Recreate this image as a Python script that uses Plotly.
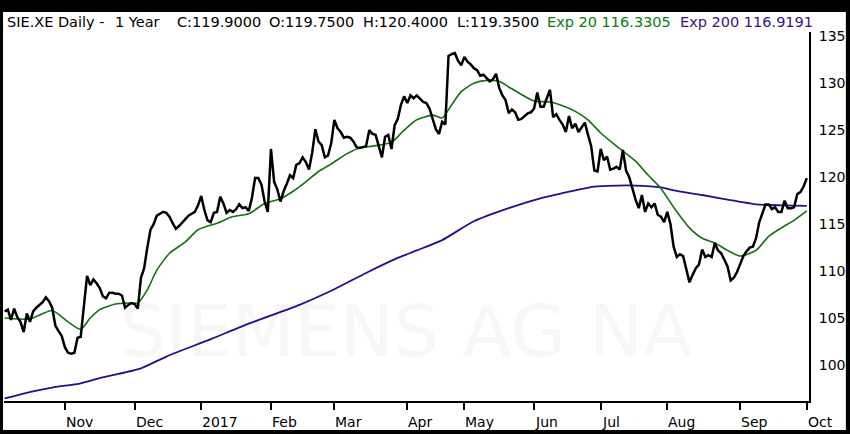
import plotly.graph_objects as go

# daily closes, one per trading day (Oct 2016 - Oct 2017)
price = [
    105.7, 105.9, 104.8, 106.0, 105.1, 104.6, 103.5, 105.5, 104.6, 105.7,
    106.1, 106.4, 106.7, 107.2, 106.8, 106.1, 104.2, 103.6, 103.1, 101.9,
    101.3, 101.2, 101.3, 102.9, 103.0, 106.3, 109.5, 108.5, 109.1, 108.7,
    108.2, 107.3, 107.1, 107.7, 107.7, 107.6, 107.6, 107.4, 106.1, 106.4,
    106.6, 106.5, 106.0, 109.3, 110.3, 112.5, 114.4, 115.0, 115.9, 116.1,
    116.3, 116.2, 115.8, 115.1, 114.5, 114.8, 115.2, 115.5, 115.9, 116.1,
    116.3, 117.0, 118.0, 116.5, 115.4, 115.2, 116.2, 116.3, 117.9, 117.2,
    116.2, 116.5, 116.3, 116.6, 117.1, 116.7, 116.8, 116.4, 117.8, 119.9,
    119.9, 119.2, 117.4, 116.3, 123.0, 119.5, 118.7, 117.4, 118.5, 119.3,
    120.2, 119.9, 121.3, 121.5, 122.1, 121.6, 120.8, 122.6, 125.1, 123.8,
    123.4, 122.1, 122.3, 123.6, 126.1, 125.2, 124.8, 124.2, 124.3, 124.2,
    123.8, 123.2, 123.1, 123.2, 123.3, 125.0, 124.6, 124.5, 123.4, 122.1,
    124.3, 124.5, 123.0, 125.5, 126.2, 127.7, 128.6, 127.9, 128.7, 128.4,
    128.7, 128.3, 128.0, 127.9, 127.3, 126.2, 125.1, 124.6, 125.9, 125.6,
    132.9, 133.1, 133.2, 132.4, 131.9, 132.8, 132.3, 132.0, 131.6, 131.4,
    130.8, 130.9, 130.5, 130.2, 130.4, 131.0, 129.5, 128.7, 128.2, 126.8,
    127.2, 126.9, 126.1, 126.2, 126.5, 126.8, 126.9, 127.3, 129.0, 127.5,
    127.5, 128.5, 129.3, 126.4, 126.7, 126.1, 125.6, 124.8, 126.5, 125.2,
    125.7, 124.8, 125.3, 125.8, 124.5, 123.3, 120.7, 120.6, 123.0, 121.8,
    122.2, 120.8, 120.9, 121.1, 120.8, 122.9, 120.7, 120.0, 118.8, 117.6,
    116.7, 118.1, 116.3, 117.2, 116.8, 117.2, 116.0, 115.8, 115.2, 116.3,
    115.0, 112.6, 111.5, 111.8, 111.6, 110.1, 108.8, 109.6, 110.3, 110.7,
    112.3, 111.5, 111.7, 111.5, 113.0, 112.2, 111.9, 111.2, 110.5, 109.0,
    109.3, 109.9, 110.7, 111.6, 112.1, 112.5, 112.6, 113.5, 115.2, 116.2,
    117.1, 117.1, 116.6, 116.8, 116.3, 116.3, 117.5, 116.7, 116.7, 116.8,
    118.2, 118.4, 119.0, 119.9,
]

# Exp 20 read at sample days
ema20_day = [0, 8, 15, 20, 24, 27, 30, 35, 39, 42, 45, 48, 52, 57, 61, 67, 72, 77,
             82, 87, 91, 95, 99, 103, 108, 112, 116, 122, 126, 130, 135, 138, 141,
             144, 148, 152, 156, 159, 163, 167, 172, 176, 180, 184, 188, 193, 199,
             203, 207, 211, 216, 220, 224, 228, 232, 237, 241, 245, 249, 253]
ema20 = [105.0, 104.9, 105.8, 104.6, 103.8, 105.0, 105.9, 106.5, 106.6, 106.6,
         108.0, 110.1, 111.9, 113.1, 114.4, 115.1, 115.8, 116.1, 117.2, 117.7,
         118.5, 119.5, 120.6, 121.4, 122.5, 123.1, 123.3, 123.7, 125.0, 126.1,
         126.6, 126.3, 127.7, 129.1, 130.0, 130.3, 130.2, 129.6, 128.8, 128.1,
         128.0, 127.6, 127.0, 126.1, 124.7, 123.3, 121.7, 120.2, 118.8, 116.8,
         114.6, 113.5, 113.0, 112.2, 111.6, 112.2, 113.7, 114.6, 115.4, 116.4]

# Exp 200 read at sample days
ema200_day = [0, 9, 15, 24, 30, 43, 51, 65, 77, 93, 103, 114, 124, 130, 138, 148,
              159, 169, 180, 186, 193, 199, 207, 211, 220, 228, 237, 245, 253]
ema200 = [96.45, 97.2, 97.6, 98.05, 98.6, 99.65, 100.9, 102.75, 104.4, 106.4,
          107.9, 109.8, 111.4, 112.2, 113.3, 115.3, 116.7, 117.75, 118.6, 119.0,
          119.1, 119.1, 118.9, 118.6, 118.1, 117.6, 117.1, 117.0, 116.95]

# first trading day of each month
month_day = [19, 41, 62, 84, 104, 127, 145, 167, 188, 209, 232, 253]
month_label = ["Nov", "Dec", "2017", "Feb", "Mar", "Apr", "May", "Jun", "Jul",
               "Aug", "Sep", "Oct"]

y_ticks = [100, 105, 110, 115, 120, 125, 130, 135]

# header pieces
header_text = ["SIE.XE Daily -", "1 Year", "C:119.9000", "O:119.7500",
               "H:120.4000", "L:119.3500", "Exp 20 116.3305", "Exp 200 116.9191"]

FONT = "DejaVu Sans"
GREEN = "#137013"
PURPLE = "#2a0c8a"
header_color = ["black"] * 6 + ["#0f780f", "#34138c"]
header_px = [5, 113, 175, 268, 362, 456, 546, 680]  # left edge, window pixels

fig = go.Figure()

# faint watermark, drawn first so lines sit on top
fig.add_trace(go.Scatter(
    x=[126.6], y=[102.9], mode="text", text=["SIEMENS AG NA"],
    textfont=dict(family=FONT, size=72, color="#f7f7f7"),
    hoverinfo="skip", showlegend=False,
))

fig.add_trace(go.Scatter(
    x=ema200_day, y=ema200, mode="lines",
    line=dict(color=PURPLE, width=1.8, shape="spline", smoothing=0.6),
    showlegend=False,
))
fig.add_trace(go.Scatter(
    x=ema20_day, y=ema20, mode="lines",
    line=dict(color=GREEN, width=1.6, shape="spline", smoothing=0.6),
    showlegend=False,
))
fig.add_trace(go.Scatter(
    x=list(range(len(price))), y=price, mode="lines",
    line=dict(color="black", width=2.5),
    showlegend=False,
))

# header line above the plot (plot area spans window px 4..811)
for txt, col, px in zip(header_text, header_color, header_px):
    fig.add_annotation(
        x=(px - 4) / 807, y=1.027, xref="paper", yref="paper",
        xanchor="left", yanchor="middle", text=txt, showarrow=False,
        font=dict(family=FONT, size=14.5, color=col),
    )

# month labels start at their tick
for d, lab in zip(month_day, month_label):
    fig.add_annotation(
        x=d, y=-0.057, xref="x", yref="paper", xanchor="left", yanchor="middle",
        text=lab, showarrow=False, xshift=-1,
        font=dict(family=FONT, size=14, color="black"),
    )

# white page inside the black frame
fig.add_shape(
    type="rect", xref="paper", yref="paper", layer="below",
    x0=-0.0012, x1=1.0458, y0=-0.0786, y1=1.0542,
    fillcolor="white", line=dict(width=0),
)

fig.update_xaxes(
    range=[-0.2, 253.7], tickvals=month_day, ticktext=[""] * len(month_day),
    ticks="outside", ticklen=7, tickwidth=2, tickcolor="black",
    showline=True, linecolor="black", linewidth=2,
    showgrid=False, zeroline=False,
)
fig.update_yaxes(
    range=[96.17, 135.45], side="right", tickvals=y_ticks,
    ticks="", ticklabelstandoff=5,
    tickfont=dict(family=FONT, size=14, color="black"),
    showline=True, linecolor="black", linewidth=2,
    showgrid=False, zeroline=False,
)

fig.update_layout(
    width=850, height=434,
    margin=dict(l=4, r=39, t=32, b=33),
    paper_bgcolor="black", plot_bgcolor="white",
    showlegend=False,
)

# drop the page's default body margin so the figure sits at the window corner
fig.write_html(
    "out.html",
    config={"displayModeBar": False},
    post_script="document.body.style.margin='0';document.body.style.background='black';",
)
